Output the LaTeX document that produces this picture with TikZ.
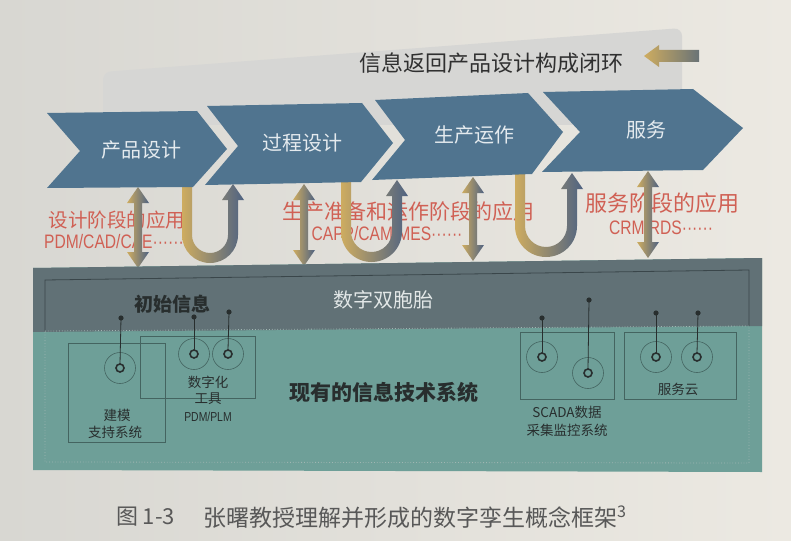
\documentclass[tikz,border=0pt]{standalone}
\usepackage{fontspec}
\setmainfont{Liberation Sans}
\newfontfamily\cjk{Noto Sans CJK SC}
\newfontfamily\narrow[FakeStretch=0.8]{Liberation Sans}
\definecolor{bgL}{RGB}{216,215,210}
\definecolor{bgR}{RGB}{236,233,226}
\definecolor{panelc}{RGB}{214,214,212}
\definecolor{chev}{RGB}{80,116,143}
\definecolor{chevtext}{RGB}{228,234,238}
\definecolor{agold}{RGB}{206,172,96}
\definecolor{ablue}{RGB}{78,98,130}
\definecolor{agrey}{RGB}{105,115,118}
\definecolor{redl}{RGB}{208,96,84}
\definecolor{slate}{RGB}{97,113,118}
\definecolor{slateline}{RGB}{58,70,74}
\definecolor{teal}{RGB}{110,159,152}
\definecolor{tealline}{RGB}{68,100,96}
\definecolor{dotline}{RGB}{160,182,178}
\definecolor{darktext}{RGB}{40,46,46}
\definecolor{titlec}{RGB}{48,48,48}
\definecolor{capc}{RGB}{88,88,88}
\definecolor{twintext}{RGB}{226,231,231}
\newcommand\myfs[1]{\fontsize{#1}{#1}\selectfont}
% U-shaped arrow: #1 xL, #2 xR, #3 top of left arm, #4 bottom (outer), #5 tip y
\newcommand\uarr[5]{%
 \pgfmathsetmacro\uXc{(#1+#2)/2}%
 \pgfmathsetmacro\uRo{(#2-#1)/2+5}%
 \pgfmathsetmacro\uRi{(#2-#1)/2-5}%
 \pgfmathsetmacro\uYc{#4-\uRo}%
 \pgfmathsetmacro\uKo{0.5523*\uRo}%
 \pgfmathsetmacro\uKi{0.5523*\uRi}%
 \pgfmathsetmacro\uYi{\uYc+\uRi}%
 \pgfmathsetmacro\uHb{#5+16}%
 \shade[ushade] (#1-5,#3) -- (#1-5,\uYc)
   .. controls (#1-5,\uYc+\uKo) and (\uXc-\uKo,#4) .. (\uXc,#4)
   .. controls (\uXc+\uKo,#4) and (#2+5,\uYc+\uKo) .. (#2+5,\uYc)
   -- (#2+5,\uHb) -- (#2+11,\uHb) -- (#2,#5) -- (#2-11,\uHb) -- (#2-5,\uHb)
   -- (#2-5,\uYc)
   .. controls (#2-5,\uYc+\uKi) and (\uXc+\uKi,\uYi) .. (\uXc,\uYi)
   .. controls (\uXc-\uKi,\uYi) and (#1+5,\uYc+\uKi) .. (#1+5,\uYc)
   -- (#1+5,#3) -- cycle;}
% double arrow: #1 x, #2 top tip, #3 bottom tip
\newcommand\darr[3]{%
 \shade[ushade] (#1,#2) -- (#1+11,#2+16) -- (#1+4,#2+16) -- (#1+4,#3-16)
   -- (#1+11,#3-16) -- (#1,#3) -- (#1-11,#3-16) -- (#1-4,#3-16)
   -- (#1-4,#2+16) -- (#1-11,#2+16) -- cycle;}
\begin{document}
\begin{tikzpicture}[x=1pt,y=-1pt,
  every node/.style={inner sep=0pt,outer sep=0pt},
  ushade/.style={left color=agold,right color=ablue},
  chevron/.style={fill=chev},
  chevlab/.style={font=\cjk\myfs{20},text=chevtext},
  redcn/.style={text=redl},
  redlat/.style={text=redl,font=\narrow\myfs{19.5}},
  sysbox/.style={draw=tealline,line width=0.7pt},
  ring/.style={circle,draw=tealline,line width=0.6pt,minimum size=31pt},
  hub/.style={circle,draw=darktext,line width=1.6pt,minimum size=8pt},
  pinline/.style={draw=darktext,line width=0.8pt},
  pinhead/.style={fill=darktext},
  boxlab/.style={font=\cjk\myfs{13.5},text=darktext}]
\useasboundingbox (0,0) rectangle (791,540);
% background page
\shade[left color=bgL,right color=bgR] (0,0) rectangle (791,540);
% grey panel
\fill[panelc,rounded corners=8pt] (103,72) -- (682,28) -- (682,125) -- (103,125) -- cycle;
% title and arrow
\node[font=\cjk\myfs{22},text=titlec] (title) at (491,63) {信息返回产品设计构成闭环};
\shade[left color=agold,right color=agrey] (644,56) -- (659,45) -- (659,50) -- (699,50)
  -- (699,62) -- (659,62) -- (659,67) -- cycle;
% red labels
\node[redcn,font=\cjk\myfs{19.5}] (l1a) at (117,220) {设计阶段的应用};
\node[redlat] (l1b) at (114,242) {PDM/CAD/CAE······};
\node[redcn,font=\cjk\myfs{21}] (l2a) at (408,212) {生产准备和运作阶段的应用};
\node[redlat] (l2b) at (387,234) {CAPP/CAM/MES······};
\node[redcn,font=\cjk\myfs{22}] (l3a) at (662,203) {服务阶段的应用};
\node[redlat] (l3b) at (661,228) {CRM/RDS······};
% arrows
\darr{138}{187}{268}
\darr{304}{184}{266}
\darr{473}{177}{261}
\darr{648}{171}{258}
\uarr{187}{233}{178}{263}{184}
\uarr{346}{397}{175}{262}{180}
\uarr{520}{572}{168}{257}{173}
% chevrons
\fill[chevron] (47,113) -- (197,111) -- (227,149) -- (193,187) -- (47,188) -- (80,151) -- cycle;
\fill[chevron] (207,106) -- (362,103) -- (393,143) -- (361,182) -- (205,185) -- (238,146) -- cycle;
\fill[chevron] (375,100) -- (528,93) -- (563,132) -- (532,174) -- (372,180) -- (405,140) -- cycle;
\fill[chevron] (543,92) -- (693,89) -- (743,128) -- (703,170) -- (542,172) -- (580,132) -- cycle;
\node[chevlab] (c1) at (141,150) {产品设计};
\node[chevlab] (c2) at (302,143) {过程设计};
\node[chevlab] (c3) at (474,135) {生产运作};
\node[chevlab] (c4) at (646,130) {服务};
% band
\fill[teal] (33,268) -- (762,258) -- (762,472) -- (33,470) -- cycle;
\fill[slate] (33,268) -- (762,258) -- (762,326) -- (33,332) -- cycle;
\draw[slateline,line width=0.8pt] (45,331) -- (45,280) -- (749,270) -- (749,326);
\draw[dotline,line width=0.8pt,dotted] (45,331) -- (749,326) -- (749,463) -- (45,462) -- cycle;
\node[font=\cjk\bfseries\myfs{19},text=darktext] (init) at (172,304) {初始信息};
\node[font=\cjk\myfs{20},text=twintext] (twin) at (383,300) {数字双胞胎};
\node[font=\cjk\bfseries\myfs{21},text=darktext] (its) at (384,392) {现有的信息技术系统};
% sub-boxes
\draw[sysbox] (68,343) rectangle (165,442);
\draw[sysbox] (140,336) rectangle (255,398);
\draw[sysbox] (520,332) rectangle (614,399);
\draw[sysbox] (624,332) rectangle (736,399);
% rings and pins
\foreach \n/\cx/\cy/\px/\py in {a/120/368/121/318, b/194/354/194/317, c/228/354/229/312,
   d/542/357/542/318, e/588/373/589/300, f/656/357/656/313, g/697/357/698/313}{
  \node[ring] (ring\n) at (\cx,\cy) {};
  \node[hub] (hub\n) at (\cx,\cy) {};
  \coordinate (pin\n) at (\px,\py);
  \draw[pinline] (hub\n.north) -- (pin\n);
  \fill[pinhead] (pin\n) circle (2.6pt);
}
\node[boxlab] (t1a) at (117,415) {建模};
\node[boxlab] (t1b) at (115,432) {支持系统};
\node[boxlab] (t2a) at (208,382) {数字化};
\node[boxlab] (t2b) at (208,399) {工具};
\node[font=\narrow\myfs{13},text=darktext] (t2c) at (208,417) {PDM/PLM};
\node[boxlab] (t3a) at (567,412) {SCADA数据};
\node[boxlab] (t3b) at (567,430) {采集监控系统};
\node[boxlab] (t4) at (678,389) {服务云};
% caption
\node[font=\cjk\myfs{22},text=capc,anchor=west] (capn) at (116,517) {图 1-3};
\node[font=\cjk\myfs{23},text=capc,anchor=west] (capt) at (203,517) {张曙教授理解并形成的数字孪生概念框架\textsuperscript{3}};
\end{tikzpicture}
\end{document}
